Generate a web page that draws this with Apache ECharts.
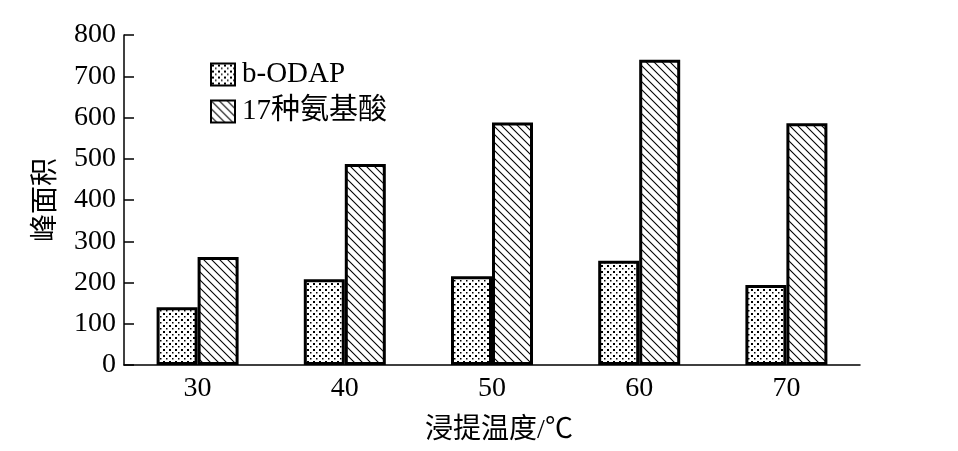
<!DOCTYPE html>
<html><head><meta charset="utf-8">
<script src="https://cdn.jsdelivr.net/npm/echarts@6/dist/echarts.min.js"></script>
<style>html,body{margin:0;padding:0;background:#fff}#c{width:958px;height:451px}</style>
</head><body><div id="c"></div>
<script>
const categories = ['30', '40', '50', '60', '70'];
const seriesNames = ['b-ODAP', '17种氨基酸'];
const bodapValues = [140, 208, 215, 253, 194];
const aminoValues = [262, 487, 588, 740, 586];
const yTicks = [0, 100, 200, 300, 400, 500, 600, 700, 800];

function dotPattern() {
  const c = document.createElement('canvas');
  c.width = 6; c.height = 6;
  const g = c.getContext('2d');
  g.fillStyle = '#fff'; g.fillRect(0, 0, 6, 6);
  g.fillStyle = '#000';
  g.fillRect(1, 1, 2, 2);
  g.fillRect(4, 4, 1.5, 1.5);
  return c;
}
function hatchPattern() {
  const s = 8;
  const c = document.createElement('canvas');
  c.width = s; c.height = s;
  const g = c.getContext('2d');
  g.fillStyle = '#fff'; g.fillRect(0, 0, s, s);
  g.strokeStyle = '#000'; g.lineWidth = 1.1;
  for (const o of [-s, 0, s]) {
    g.beginPath(); g.moveTo(o - 1, -1); g.lineTo(o + s + 1, s + 1); g.stroke();
  }
  return c;
}
const serif = '"Liberation Serif", "Noto Sans CJK SC", serif';
const chart = echarts.init(document.getElementById('c'));
chart.setOption({
  animation: false,
  backgroundColor: '#fff',
  textStyle: { fontFamily: serif },
  grid: { left: 124, right: 98, top: 35, bottom: 86 },
  legend: {
    orient: 'vertical', left: 205, top: 55, itemWidth: 24, itemHeight: 22, itemGap: 8,
    icon: 'rect',
    textStyle: { fontFamily: serif, fontSize: 29, color: '#000', padding: [0, 0, 0, 2] },
    data: seriesNames
  },
  xAxis: {
    type: 'category', data: categories,
    name: '浸提温度/℃', nameLocation: 'middle', nameGap: 52,
    nameTextStyle: { fontFamily: serif, fontSize: 28, color: '#000', padding: [0, 0, 0, 14] },
    axisLine: { lineStyle: { color: '#000', width: 1.5 } },
    axisTick: { inside: true, length: 11, alignWithLabel: false, lineStyle: { color: '#000', width: 1.5 } },
    axisLabel: { fontFamily: serif, fontSize: 28, color: '#000', margin: 10 }
  },
  yAxis: {
    type: 'value', min: 0, max: 800, interval: 100,
    name: '峰面积', nameLocation: 'middle', nameGap: 63,
    nameTextStyle: { fontFamily: serif, fontSize: 28, color: '#000' },
    axisLine: { show: true, lineStyle: { color: '#000', width: 1.5 } },
    axisTick: { show: true, inside: true, length: 10, lineStyle: { color: '#000', width: 1.5 } },
    splitLine: { show: false },
    axisLabel: { fontFamily: serif, fontSize: 28, color: '#000', margin: 8,
      formatter: v => yTicks.includes(v) ? String(v) : '' }
  },
  series: [
    { name: seriesNames[0], type: 'bar', data: bodapValues, barWidth: 41, barGap: '0%',
      itemStyle: { color: { image: dotPattern(), repeat: 'repeat' }, borderColor: '#000', borderWidth: 3 } },
    { name: seriesNames[1], type: 'bar', data: aminoValues, barWidth: 41, barGap: '0%',
      itemStyle: { color: { image: hatchPattern(), repeat: 'repeat' }, borderColor: '#000', borderWidth: 3 } }
  ]
});
</script></body></html>
